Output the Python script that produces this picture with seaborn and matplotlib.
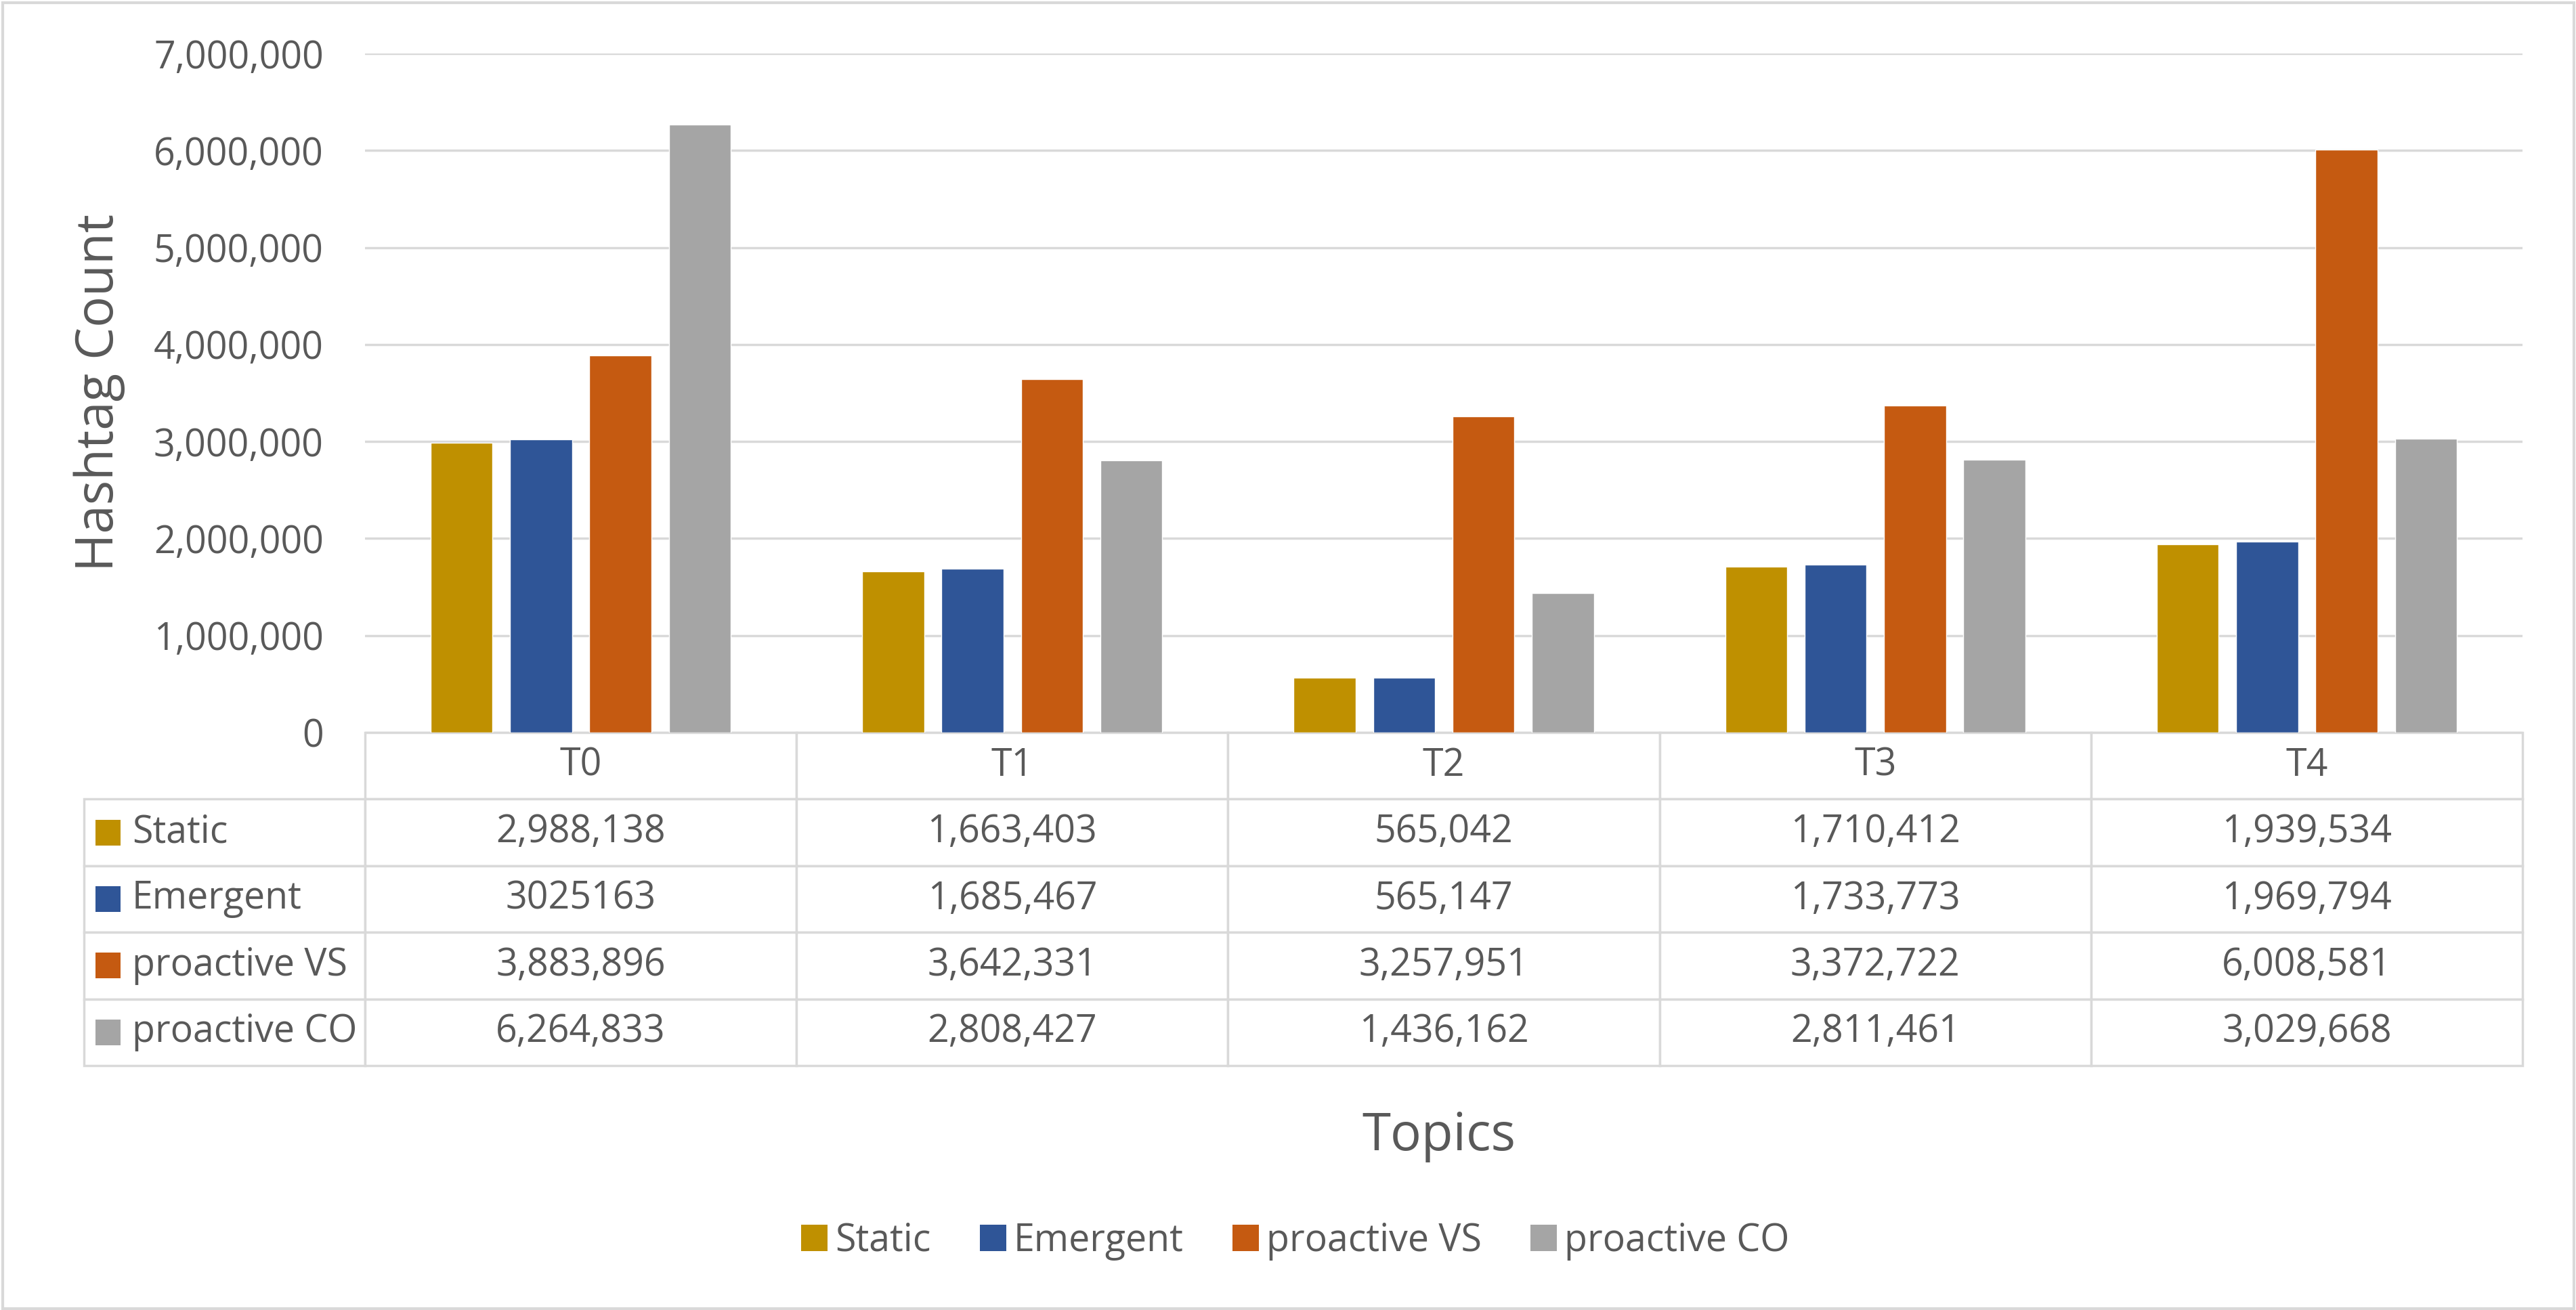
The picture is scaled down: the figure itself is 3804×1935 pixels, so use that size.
import numpy as np
import pandas as pd
import matplotlib.pyplot as plt
import seaborn as sns
from matplotlib.patches import Patch, Rectangle

topics = ["T0", "T1", "T2", "T3", "T4"]
series = ["Static", "Emergent", "proactive VS", "proactive CO"]
static = [2988138, 1663403, 565042, 1710412, 1939534]
emergent = [3025163, 1685467, 565147, 1733773, 1969794]
proactive_vs = [3883896, 3642331, 3257951, 3372722, 6008581]
proactive_co = [6264833, 2808427, 1436162, 2811461, 3029668]
yticks = [0, 1000000, 2000000, 3000000, 4000000, 5000000, 6000000, 7000000]
plain_cells = {(1, 0)}   # (series, topic) shown without thousands separator in the source

colors = ["#BF9000", "#2F5597", "#C55A11", "#A5A5A5"]
text_col = "#595959"
line_col = "#D9D9D9"

values = [static, emergent, proactive_vs, proactive_co]
df = pd.DataFrame({
    "Topic": np.repeat([topics], len(series), axis=0).ravel(),
    "Series": np.repeat(series, len(topics)),
    "Count": np.ravel(values),
})

sns.set_theme(style="white")
plt.rcParams["font.family"] = ["Open Sans", "DejaVu Sans"]

W, H = 3805, 1935
fig = plt.figure(figsize=(W / 100, H / 100), dpi=100)
ax = fig.add_axes([539 / W, 1 - 1082 / H, 3186 / W, 1003 / H])

sns.barplot(data=df, x="Topic", y="Count", hue="Series", order=topics, hue_order=series,
            palette=colors, saturation=1, width=0.736, gap=0.22, errorbar=None,
            legend=False, ax=ax)

ax.set_xlim(-0.5, 4.5)
ax.set_ylim(0, 7000000)
ax.set_yticks(yticks)
ax.set_yticklabels([f"{v:,}" for v in yticks])
ax.set_xticks([])
ax.set_xlabel("")
ax.set_ylabel("")
ax.yaxis.grid(True, color=line_col, lw=2.5)
ax.set_axisbelow(True)
for s in ax.spines.values():
    s.set_visible(False)
ax.tick_params(axis="y", length=0, pad=44, labelsize=40, labelcolor=text_col)

# data table under the plot
def fmt(i, j, v):
    return str(v) if (i, j) in plain_cells else f"{v:,}"

cell_text = [[""] + topics]
for i, name in enumerate(series):
    cell_text.append([name] + [fmt(i, j, v) for j, v in enumerate(values[i])])

lab_w = 415 / 3186
tbl_h = 492 / 1003
tbl = ax.table(cellText=cell_text, cellLoc="center", colWidths=[lab_w] + [0.2] * 5,
               bbox=[-lab_w, -tbl_h, 1 + lab_w, tbl_h])
tbl.auto_set_font_size(False)
tbl.set_fontsize(40)
for (r, c), cell in tbl.get_celld().items():
    cell.set_edgecolor(line_col)
    cell.set_linewidth(2.5)
    cell.get_text().set_color(text_col)
    if r == 0 and c == 0:
        cell.visible_edges = "open"
    if c == 0 and r > 0:
        cell.get_text().set_horizontalalignment("left")
        cell.PAD = 71 / 415

# colour keys in the row labels
row_h = tbl_h / 5
sq_w, sq_h = 37 / 3186, 38 / 1003
for i, col in enumerate(colors):
    yc = -(i + 1.5) * row_h
    ax.add_patch(Rectangle((-398 / 3186, yc - sq_h / 2), sq_w, sq_h, transform=ax.transAxes,
                           clip_on=False, facecolor=col, edgecolor="none"))

fig.text(167 / W, 1 - 580 / H, "Hashtag Count", rotation=90, rotation_mode="anchor",
         ha="center", va="baseline", fontsize=55, color=text_col)
fig.text(2125 / W, 1 - 1699 / H, "Topics", ha="center", va="baseline",
         fontsize=55, color=text_col)

handles = [Patch(facecolor=c, edgecolor="none") for c in colors]
fig.legend(handles, series, loc="center", bbox_to_anchor=(1913 / W, 1 - 1833 / H), ncol=4,
           frameon=False, fontsize=40, handlelength=0.7, handleheight=0.7,
           handletextpad=0.2, columnspacing=1.3, labelcolor=text_col)

fig.add_artist(Rectangle((0.001, 0.001), 0.998, 0.997, transform=fig.transFigure,
                         fill=False, edgecolor=line_col, lw=3))

fig.savefig("out.png", dpi=100)
